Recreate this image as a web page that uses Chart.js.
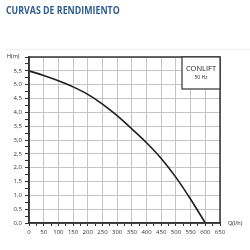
<!DOCTYPE html>
<html>
<head>
<meta charset="utf-8">
<script src="https://cdn.jsdelivr.net/npm/chart.js@4"></script>
<style>
  body { margin: 0; background: #fff; }
  #wrap { position: relative; width: 250px; height: 250px; }
  #title { position: absolute; left: 6px; top: 3px; font: 700 10.5px "Open Sans", sans-serif; color: #2c5d92;
           transform: scaleX(0.84); transform-origin: left top; white-space: nowrap; }
  #sep { position: absolute; left: 5px; right: 0; top: 49px; height: 1px; background: #eee; }
  canvas { position: absolute; left: 0; top: 0; }
</style>
</head>
<body>
<div id="wrap">
  <canvas id="curve" width="250" height="250"></canvas>
  <div id="sep"></div>
  <div id="title">CURVAS DE RENDIMIENTO</div>
</div>
<script>
// caudal Q (l/h) y altura H (m)
const caudal = [0, 50, 100, 150, 200, 250, 300, 350, 400, 450, 500, 550, 600];
const altura = [5.5, 5.33, 5.14, 4.92, 4.65, 4.3, 3.88, 3.4, 2.9, 2.33, 1.65, 0.86, 0];
const modelo = 'CONLIFT';
const frecuencia = '50 Hz';

const tickFont = { family: 'Open Sans', size: 6 };
const gridGrey = '#c4c4c4';
const axisDark = '#333';

const frame = {
    id: 'frame',
    afterDraw(chart) {
        const { ctx, chartArea: a } = chart;
        ctx.save();
        ctx.strokeStyle = axisDark;
        ctx.lineWidth = 1.5;
        ctx.strokeRect(a.left, a.top, a.right - a.left, a.bottom - a.top);

        // recuadro del modelo
        const bx = 182, by = a.top, bw = a.right - bx, bh = 32;
        ctx.fillStyle = '#fff';
        ctx.fillRect(bx, by, bw, bh);
        ctx.lineWidth = 1.2;
        ctx.strokeRect(bx, by, bw, bh);
        ctx.fillStyle = '#222';
        ctx.textAlign = 'center';
        ctx.textBaseline = 'middle';
        ctx.font = '7.5px "Open Sans"';
        ctx.fillText(modelo, bx + bw / 2, by + 12);
        ctx.font = '5px "Open Sans"';
        ctx.fillText(frecuencia, bx + bw / 2, by + 21);

        // titulos de ejes
        ctx.font = '5.5px "Open Sans"';
        ctx.textAlign = 'left';
        ctx.fillText('H(m)', 7, a.top - 1);
        ctx.fillText('Q(l/h)', a.right + 8, a.bottom);
        ctx.restore();
    }
};

new Chart(document.getElementById('curve'), {
    type: 'line',
    data: {
        datasets: [{
            data: caudal.map((q, i) => ({ x: q, y: altura[i] })),
            borderColor: '#1e1e1e',
            borderWidth: 1.6,
            pointRadius: 0,
            cubicInterpolationMode: 'monotone',
            fill: false
        }]
    },
    options: {
        responsive: false,
        animation: false,
        layout: { padding: { left: 0, top: 57, right: 30, bottom: 0 } },
        plugins: { legend: { display: false }, tooltip: { enabled: false } },
        scales: {
            x: {
                type: 'linear', min: 0, max: 650,
                afterFit: s => { s.height = 27; },
                ticks: {
                    stepSize: 25, autoSkip: false, maxRotation: 0, padding: 3,
                    color: '#333', font: tickFont,
                    callback: v => (v % 50 === 0 ? v : '')
                },
                grid: {
                    color: c => (c.tick && c.tick.value % 50 === 0 ? gridGrey : 'rgba(0,0,0,0)'),
                    tickColor: axisDark, tickLength: 3, lineWidth: 1
                },
                border: { color: axisDark, width: 1.5 }
            },
            y: {
                min: 0, max: 6,
                afterFit: s => { s.width = 29; },
                ticks: {
                    stepSize: 0.25, autoSkip: false, padding: 3,
                    color: '#333', font: tickFont,
                    callback: v => (Math.round(v * 100) % 50 === 0 && v < 6 ? v.toFixed(1).replace('.', ',') : '')
                },
                grid: {
                    color: c => (c.tick && Math.round(c.tick.value * 100) % 50 === 0 ? gridGrey : 'rgba(0,0,0,0)'),
                    tickColor: axisDark, tickLength: 4, lineWidth: 1
                },
                border: { color: axisDark, width: 1.5 }
            }
        }
    },
    plugins: [frame]
});
</script>
</body>
</html>
